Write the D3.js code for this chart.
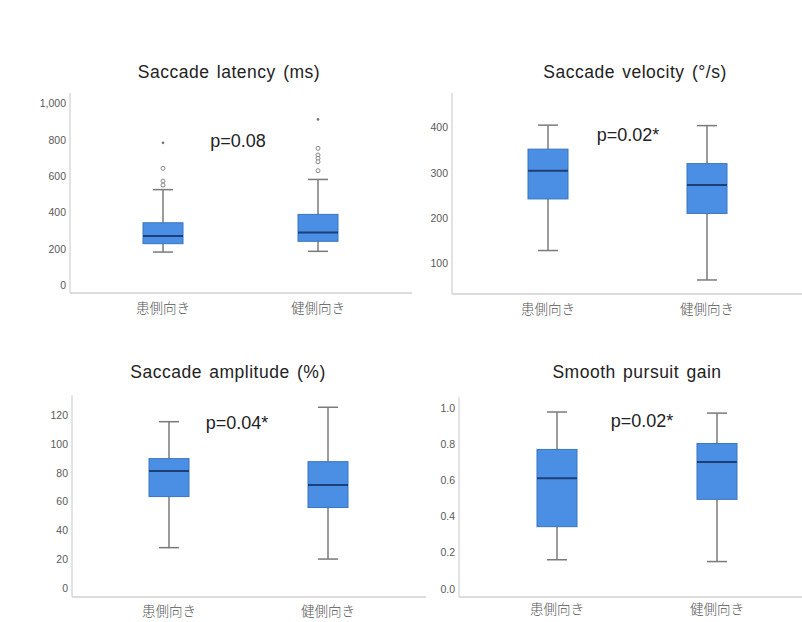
<!DOCTYPE html>
<html><head><meta charset="utf-8">
<script src="https://cdn.jsdelivr.net/npm/d3@7"></script>
<style>body{margin:0;background:#fff;}svg{display:block;}</style>
</head><body>
<script>
// ---- data ----
const categories = ["患側向き", "健側向き"];
const titles = ["Saccade latency (ms)", "Saccade velocity (°/s)", "Saccade amplitude (%)", "Smooth pursuit gain"];
const pLabels = ["p=0.08", "p=0.02*", "p=0.04*", "p=0.02*"];
// [lowerWhisker, Q1, median, Q3, upperWhisker] per category
const latencyStats = [[183, 229, 271, 344, 526], [187, 242, 291, 390, 582]];
const velocityStats = [[128, 242, 304, 352, 405], [63, 210, 273, 320, 404]];
const amplitudeStats = [[28, 63.4, 81.2, 89.7, 115.3], [20.1, 55.8, 71.5, 87.6, 125.3]];
const gainStats = [[0.16, 0.343, 0.61, 0.77, 0.977], [0.15, 0.494, 0.701, 0.803, 0.971]];
const latencyOutliers = [[643, 573, 551], [753, 716, 698, 679, 630]];
const latencyExtremes = [[783], [912]];
const latencyTicks = [0, 200, 400, 600, 800, 1000];
const velocityTicks = [100, 200, 300, 400];
const amplitudeTicks = [0, 20, 40, 60, 80, 100, 120];
const gainTicks = [0, 0.2, 0.4, 0.6, 0.8, 1.0];
const latencyDomain = [-42, 1057];
const velocityDomain = [32, 476];
const amplitudeDomain = [-6.2, 133.8];
const gainDomain = [-0.046, 1.06];

// ---- layout ----
const panels = [
  {stats: latencyStats, ticks: latencyTicks, domain: latencyDomain, fmt: d3.format(","), out: latencyOutliers, ext: latencyExtremes,
   axisX: 70, top: 93, bottom: 293, right: 412, c: [163, 318], titleX: 229, titleY: 78, pX: 238, pY: 147, catY: 313},
  {stats: velocityStats, ticks: velocityTicks, domain: velocityDomain, fmt: d3.format("d"),
   axisX: 452, top: 93, bottom: 294, right: 802, c: [548, 707], titleX: 635, titleY: 78, pX: 628, pY: 141, catY: 314},
  {stats: amplitudeStats, ticks: amplitudeTicks, domain: amplitudeDomain, fmt: d3.format("d"),
   axisX: 72, top: 395, bottom: 597, right: 426, c: [169, 328], titleX: 228, titleY: 378, pX: 237, pY: 429, catY: 616},
  {stats: gainStats, ticks: gainTicks, domain: gainDomain, fmt: d3.format(".1f"),
   axisX: 459, top: 397, bottom: 597, right: 802, c: [557, 717], titleX: 637, titleY: 378, pX: 642, pY: 427, catY: 614}
];

const svg = d3.select("body").append("svg").attr("width", 802).attr("height", 622);
const font = "Liberation Sans, Arial, sans-serif";
const boxW = 40, capW = 20;

panels.forEach((p, i) => {
  const g = svg.append("g");
  const y = d3.scaleLinear().domain(p.domain).range([p.bottom, p.top]);
  const x = d3.scalePoint().domain(categories).range(p.c);

  // y axis
  const ax = g.append("g").attr("transform", `translate(${p.axisX},0)`)
    .call(d3.axisLeft(y).tickValues(p.ticks).tickFormat(p.fmt).tickSize(0).tickPadding(4));
  ax.select(".domain").remove();
  ax.selectAll("text").attr("font-family", font).attr("font-size", 10.5).attr("fill", "#5a5a5a");
  g.append("line").attr("x1", p.axisX).attr("x2", p.axisX).attr("y1", y.range()[1]).attr("y2", y.range()[0])
    .attr("stroke", "#d0d0d0").attr("stroke-width", 1.2);
  g.append("line").attr("x1", p.axisX).attr("x2", p.right).attr("y1", p.bottom).attr("y2", p.bottom)
    .attr("stroke", "#d0d0d0").attr("stroke-width", 1.5);

  // title & p-value
  g.append("text").attr("x", p.titleX).attr("y", p.titleY).attr("text-anchor", "middle")
    .attr("font-family", font).attr("font-size", 17.5).attr("letter-spacing", 0.5).attr("word-spacing", 2)
    .attr("fill", "#222").text(titles[i]);
  g.append("text").attr("x", p.pX).attr("y", p.pY).attr("text-anchor", "middle")
    .attr("font-family", font).attr("font-size", 18).attr("fill", "#222").text(pLabels[i]);

  // category labels
  g.selectAll(".cat").data(categories).join("text")
    .attr("x", d => x(d)).attr("y", p.catY).attr("text-anchor", "middle")
    .attr("font-family", "Noto Sans CJK JP, sans-serif").attr("font-size", 13.5).attr("font-weight", 300)
    .attr("fill", "#555").text(d => d);

  // boxes
  p.stats.forEach((s, k) => {
    const cx = x(categories[k]);
    const [lo, q1, med, q3, hi] = s;
    g.append("line").attr("x1", cx).attr("x2", cx).attr("y1", y(hi)).attr("y2", y(q3)).attr("stroke", "#7a7a7a").attr("stroke-width", 1.5);
    g.append("line").attr("x1", cx).attr("x2", cx).attr("y1", y(q1)).attr("y2", y(lo)).attr("stroke", "#7a7a7a").attr("stroke-width", 1.5);
    g.append("line").attr("x1", cx - capW / 2).attr("x2", cx + capW / 2).attr("y1", y(hi)).attr("y2", y(hi)).attr("stroke", "#7a7a7a").attr("stroke-width", 1.5);
    g.append("line").attr("x1", cx - capW / 2).attr("x2", cx + capW / 2).attr("y1", y(lo)).attr("y2", y(lo)).attr("stroke", "#7a7a7a").attr("stroke-width", 1.5);
    g.append("rect").attr("x", cx - boxW / 2).attr("y", y(q3)).attr("width", boxW).attr("height", y(q1) - y(q3))
      .attr("fill", "#4a8fe3").attr("stroke", "#3b74c0").attr("stroke-width", 1);
    g.append("line").attr("x1", cx - boxW / 2).attr("x2", cx + boxW / 2).attr("y1", y(med)).attr("y2", y(med))
      .attr("stroke", "#1d3f78").attr("stroke-width", 2);
    if (p.out) {
      g.selectAll(null).data(p.out[k]).join("circle").attr("cx", cx).attr("cy", d => y(d)).attr("r", 2)
        .attr("fill", "#fff").attr("stroke", "#888").attr("stroke-width", 1);
      g.selectAll(null).data(p.ext[k]).join("circle").attr("cx", cx).attr("cy", d => y(d)).attr("r", 1.3)
        .attr("fill", "#777");
    }
  });
});
</script>
</body></html>
